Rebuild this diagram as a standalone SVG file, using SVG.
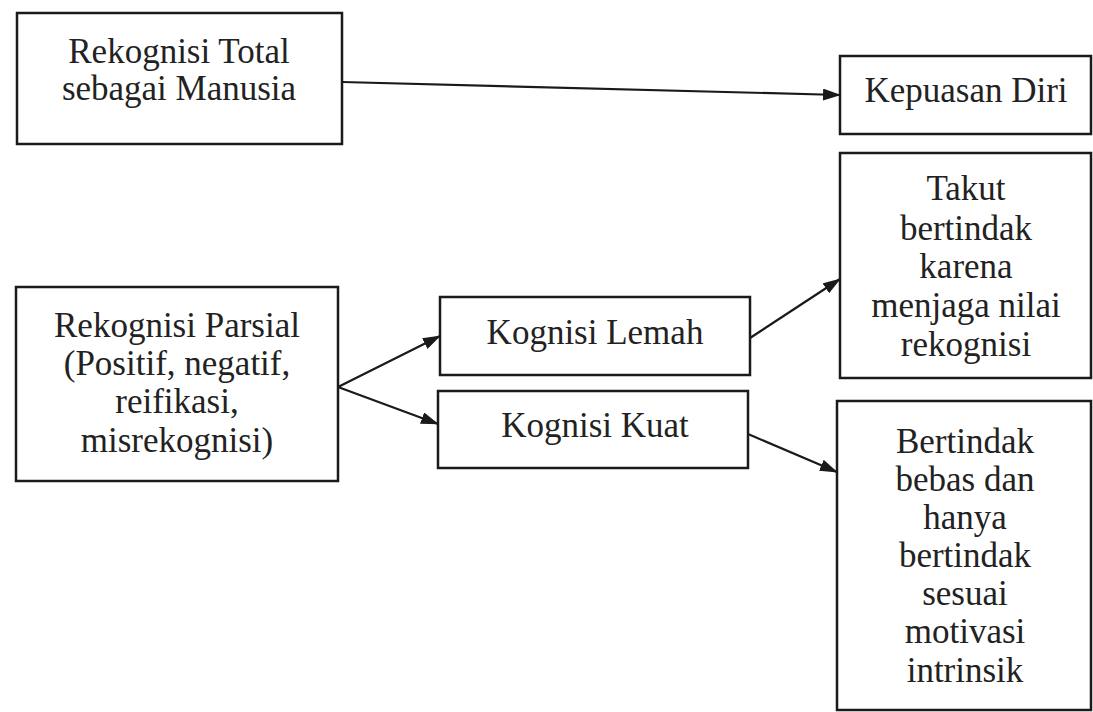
<svg xmlns="http://www.w3.org/2000/svg" width="1093" height="712" viewBox="0 0 1093 712">
<defs>
<marker id="ah" markerWidth="18" markerHeight="12" refX="17" refY="6" orient="auto" markerUnits="userSpaceOnUse">
<path d="M0,0 L18,6 L0,12 Z" fill="#1a1a1a"/>
</marker>
<style>
.box{fill:#fff;stroke:#1a1a1a;stroke-width:2.5}
.t{font-family:"Liberation Serif","Times New Roman",serif;font-size:35px;fill:#222;text-anchor:middle}
.c{stroke:#1a1a1a;stroke-width:2.2;fill:none;marker-end:url(#ah)}
</style>
</defs>
<rect width="1093" height="712" fill="#fff"/>
<g id="n-total">
<rect class="box" x="17" y="13" width="325" height="131"/>
<text class="t" x="179" y="63">Rekognisi Total</text>
<text class="t" x="179" y="100">sebagai Manusia</text>
</g>
<g id="n-kepuasan">
<rect class="box" x="840" y="56" width="251" height="78"/>
<text class="t" x="966" y="102">Kepuasan Diri</text>
</g>
<g id="n-takut">
<rect class="box" x="840" y="153" width="251" height="225"/>
<text class="t" x="966" y="200">Takut</text>
<text class="t" x="966" y="240">bertindak</text>
<text class="t" x="966" y="278">karena</text>
<text class="t" x="966" y="317">menjaga nilai</text>
<text class="t" x="966" y="356">rekognisi</text>
</g>
<g id="n-parsial">
<rect class="box" x="16" y="287" width="322" height="194"/>
<text class="t" x="177" y="337">Rekognisi Parsial</text>
<text class="t" x="177" y="375">(Positif, negatif,</text>
<text class="t" x="177" y="413">reifikasi,</text>
<text class="t" x="177" y="452">misrekognisi)</text>
</g>
<g id="n-lemah">
<rect class="box" x="440" y="297" width="310" height="78"/>
<text class="t" x="595" y="344">Kognisi Lemah</text>
</g>
<g id="n-kuat">
<rect class="box" x="438" y="391" width="310" height="77"/>
<text class="t" x="595" y="437">Kognisi Kuat</text>
</g>
<g id="n-bertindak">
<rect class="box" x="837" y="401" width="254" height="309"/>
<text class="t" x="965" y="453">Bertindak</text>
<text class="t" x="965" y="491">bebas dan</text>
<text class="t" x="965" y="529">hanya</text>
<text class="t" x="965" y="567">bertindak</text>
<text class="t" x="965" y="605">sesuai</text>
<text class="t" x="965" y="643">motivasi</text>
<text class="t" x="965" y="682">intrinsik</text>
</g>
<g id="connectors">
<line class="c" x1="342" y1="82" x2="840" y2="95"/>
<line class="c" x1="338" y1="387" x2="440" y2="336"/>
<line class="c" x1="338" y1="387" x2="438" y2="424"/>
<line class="c" x1="750" y1="338" x2="840" y2="279"/>
<line class="c" x1="748" y1="434" x2="837" y2="472"/>
</g>
</svg>
